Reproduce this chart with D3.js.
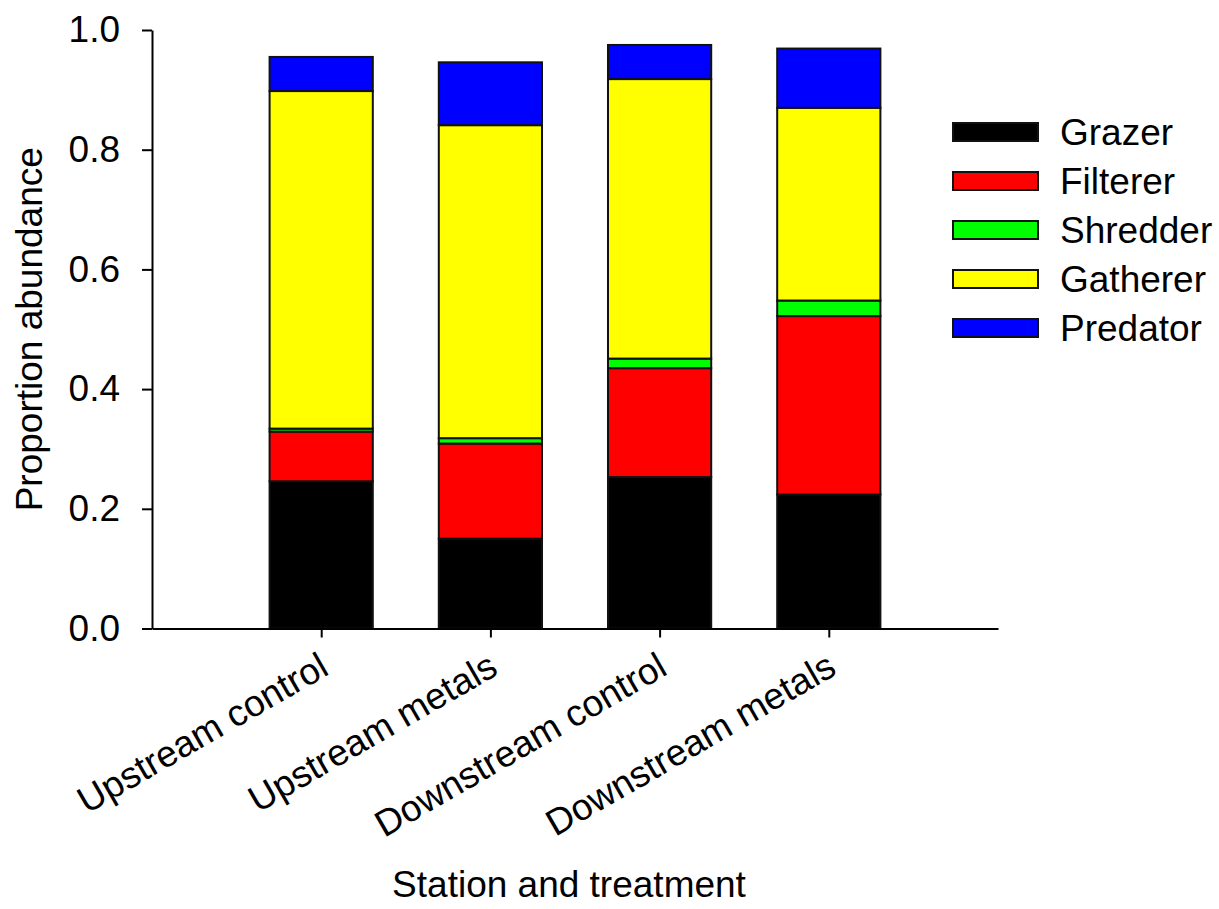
<!DOCTYPE html>
<html>
<head>
<meta charset="utf-8">
<script src="https://cdn.jsdelivr.net/npm/d3@7"></script>
<style>
  html, body { margin: 0; padding: 0; background: #fff; }
  svg { display: block; font-family: "Liberation Sans", Arial, sans-serif; }
</style>
</head>
<body>
<svg id="chart" width="1219" height="909"></svg>
<script>
// Stations along the stream
const stations = ["Upstream control", "Upstream metals", "Downstream control", "Downstream metals"];
// Functional feeding groups, bottom to top of each stack
const groups = ["Grazer", "Filterer", "Shredder", "Gatherer", "Predator"];
const groupColors = ["#000000", "#ff0000", "#00ff00", "#ffff00", "#0000ff"];
// Proportion abundance per station, one array per group
const grazer   = [0.246, 0.150, 0.253, 0.224];
const filterer = [0.083, 0.159, 0.182, 0.298];
const shredder = [0.005, 0.009, 0.016, 0.026];
const gatherer = [0.564, 0.523, 0.467, 0.322];
const predator = [0.057, 0.105, 0.057, 0.099];
const yTicks = [0.0, 0.2, 0.4, 0.6, 0.8, 1.0];

const FONT = "Liberation Sans, Arial, sans-serif";
const FS = 37;

const svg = d3.select("#chart");
const x0 = 152, x1 = 998, yBottom = 628.5, yTop = 30;

// stations sit at positions 1..4 on a 0..5 axis
const x = d3.scaleLinear().domain([0, 5]).range([x0, x1]);
const y = d3.scaleLinear().domain([0, 1]).range([yBottom, yTop]);
const barW = x(0.61) - x(0);

const rows = stations.map((s, i) => ({
  station: s, idx: i + 1,
  Grazer: grazer[i], Filterer: filterer[i], Shredder: shredder[i],
  Gatherer: gatherer[i], Predator: predator[i]
}));
const stack = d3.stack().keys(groups)(rows);

const layers = svg.append("g").selectAll("g")
  .data(stack).join("g")
  .attr("fill", (d, i) => groupColors[i]);

layers.selectAll("rect")
  .data(d => d).join("rect")
  .attr("x", d => x(d.data.idx) - barW / 2)
  .attr("width", barW)
  .attr("y", d => y(d[1]))
  .attr("height", d => y(d[0]) - y(d[1]))
  .attr("stroke", "#111")
  .attr("stroke-width", 2);

// Y axis
const yAxis = d3.axisLeft(y).tickValues(yTicks).tickFormat(d3.format(".1f"))
  .tickSizeOuter(0).tickSizeInner(10).tickPadding(22);
const gy = svg.append("g").attr("transform", `translate(${x0},0)`).call(yAxis);
gy.attr("font-size", null).attr("font-family", null);
gy.select(".domain").attr("stroke", "#000").attr("stroke-width", 2);
gy.selectAll(".tick line").attr("stroke", "#000").attr("stroke-width", 2);
gy.selectAll(".tick text").attr("font-size", FS).attr("fill", "#000")
  .attr("font-family", FONT);

// X axis
const xAxis = d3.axisBottom(x).tickValues([1, 2, 3, 4])
  .tickFormat(d => stations[d - 1]).tickSizeOuter(0).tickSizeInner(9);
const gx = svg.append("g").attr("transform", `translate(0,${yBottom})`).call(xAxis);
gx.attr("font-size", null).attr("font-family", null);
gx.select(".domain").attr("stroke", "#000").attr("stroke-width", 2);
gx.selectAll(".tick line").attr("stroke", "#000").attr("stroke-width", 2);
gx.selectAll(".tick text")
  .attr("font-size", FS).attr("fill", "#000")
  .attr("font-family", FONT)
  .attr("text-anchor", "end")
  .attr("dy", null).attr("y", null)
  .attr("transform", "translate(9,45) rotate(-30)");

// Axis titles
svg.append("text")
  .attr("transform", `translate(42,${(yBottom + yTop) / 2}) rotate(-90)`)
  .attr("text-anchor", "middle")
  .attr("font-size", FS)
  .attr("font-family", FONT)
  .text("Proportion abundance");

svg.append("text")
  .attr("x", 569).attr("y", 897)
  .attr("text-anchor", "middle")
  .attr("font-size", FS)
  .attr("font-family", FONT)
  .text("Station and treatment");

// Legend
const legend = svg.append("g").attr("transform", "translate(953,123)");
const li = legend.selectAll("g").data(groups).join("g")
  .attr("transform", (d, i) => `translate(0,${i * 49})`);
li.append("rect")
  .attr("width", 85).attr("height", 18)
  .attr("fill", (d, i) => groupColors[i])
  .attr("stroke", "#111").attr("stroke-width", 2);
li.append("text")
  .attr("x", 107).attr("y", 9).attr("dy", "0.36em")
  .attr("font-size", FS)
  .attr("font-family", FONT)
  .text(d => d);
</script>
</body>
</html>
